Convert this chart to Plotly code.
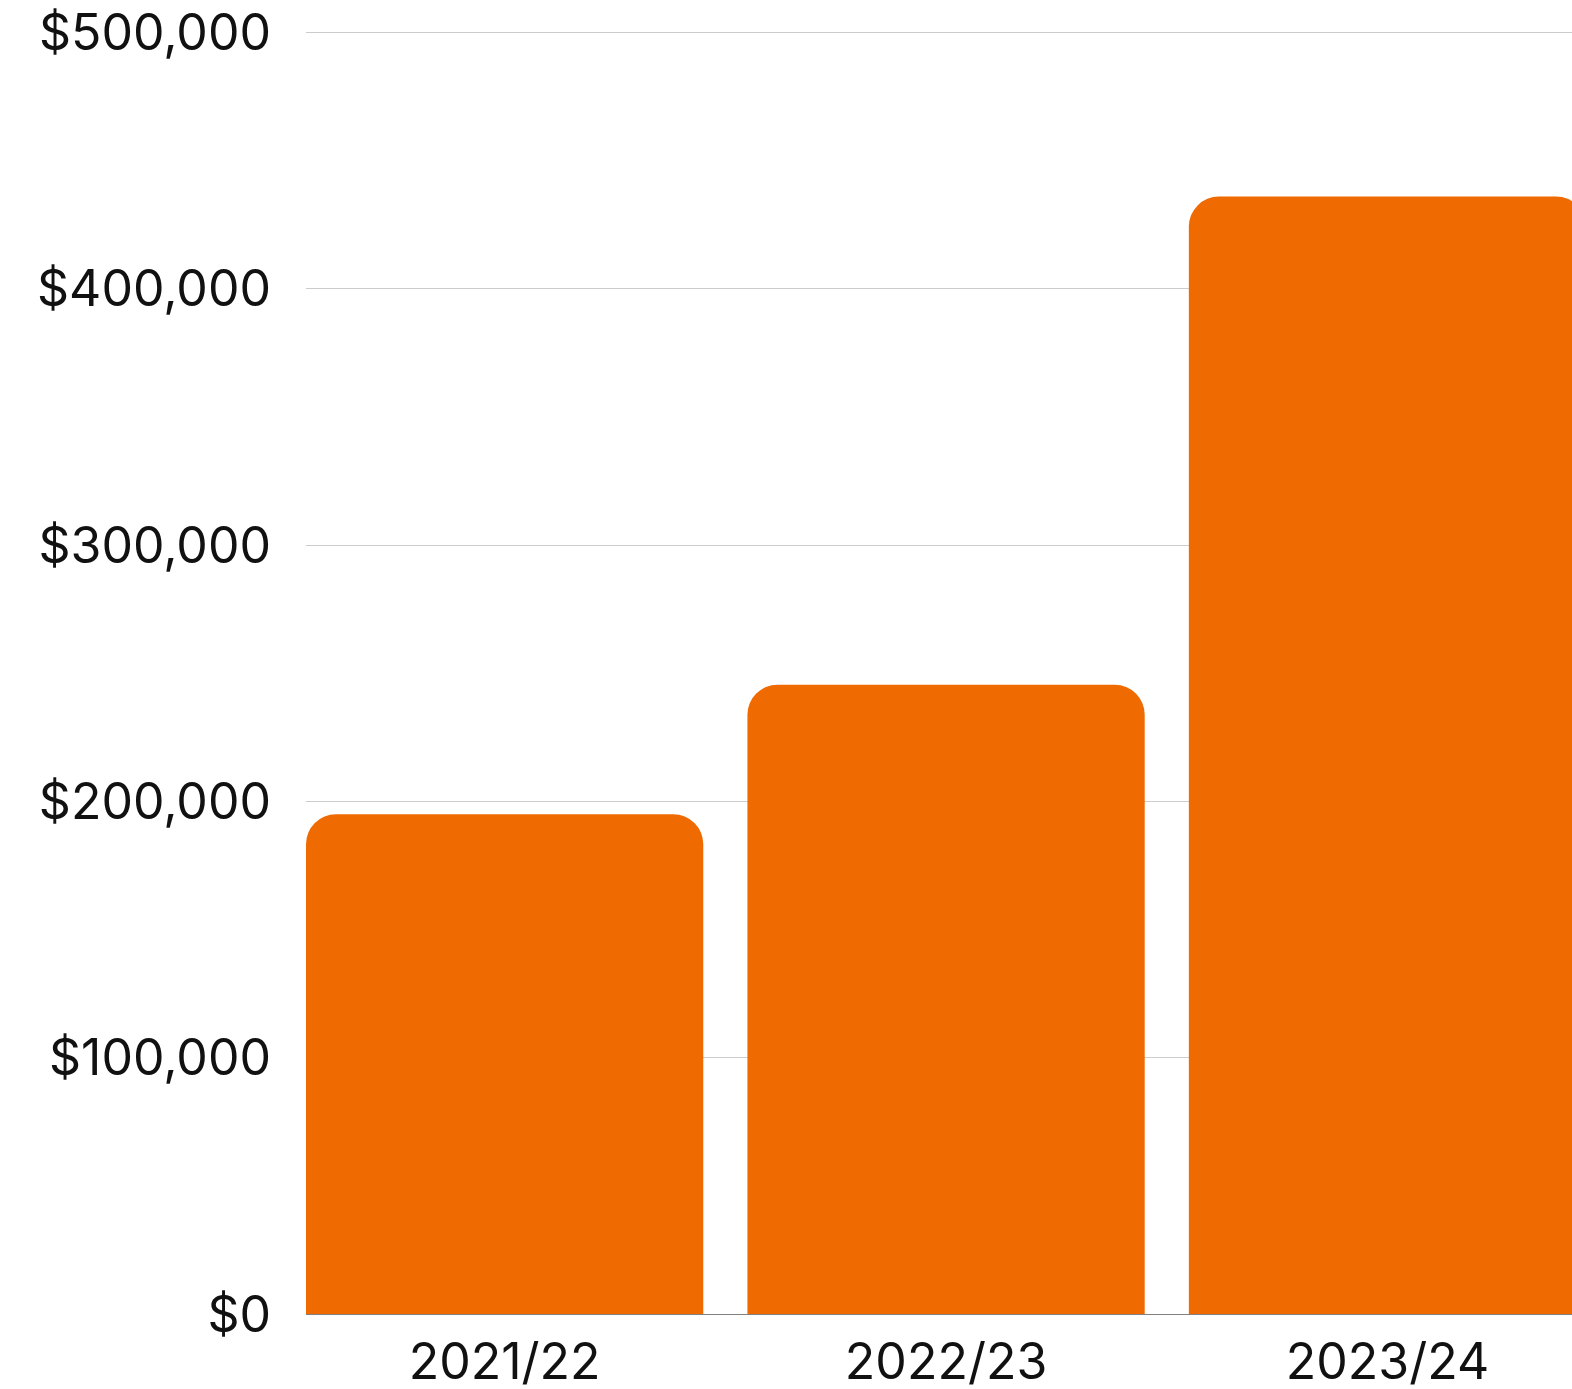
import plotly.graph_objects as go

categories = ["2021/22", "2022/23", "2023/24"]
values = [195000, 245500, 436000]
y_tickvals = [0, 100000, 200000, 300000, 400000, 500000]
y_ticktext = ["$0", "$100,000", "$200,000", "$300,000", "$400,000", "$500,000"]

fig = go.Figure(
    go.Bar(
        x=categories,
        y=values,
        marker=dict(color="#EF6B02", cornerradius=30, line=dict(width=0)),
        hoverinfo="skip",
    )
)

fig.update_layout(
    width=1572,
    height=1389,
    margin=dict(l=306, r=0, t=30, b=75, autoexpand=False),
    paper_bgcolor="white",
    plot_bgcolor="white",
    bargap=0.1,
    showlegend=False,
    font=dict(family="Inter", size=50, color="#111111"),
)
fig.update_xaxes(
    range=[-0.45, 2.418],
    showgrid=False,
    showline=False,
    ticks="",
    ticklabelstandoff=14,
    automargin=False,
)
fig.update_yaxes(
    range=[0, 501000],
    tickvals=y_tickvals,
    ticktext=y_ticktext,
    showgrid=True,
    gridcolor="#cccccc",
    gridwidth=1,
    zeroline=True,
    zerolinecolor="#808080",
    zerolinewidth=1,
    ticks="",
    ticklabelstandoff=34,
    ticklabeloverflow="allow",
    automargin=False,
)

fig.write_html(
    "out.html",
    config={"displayModeBar": False, "staticPlot": True},
    post_script="document.body.style.margin='0';document.body.style.overflow='hidden';",
)
